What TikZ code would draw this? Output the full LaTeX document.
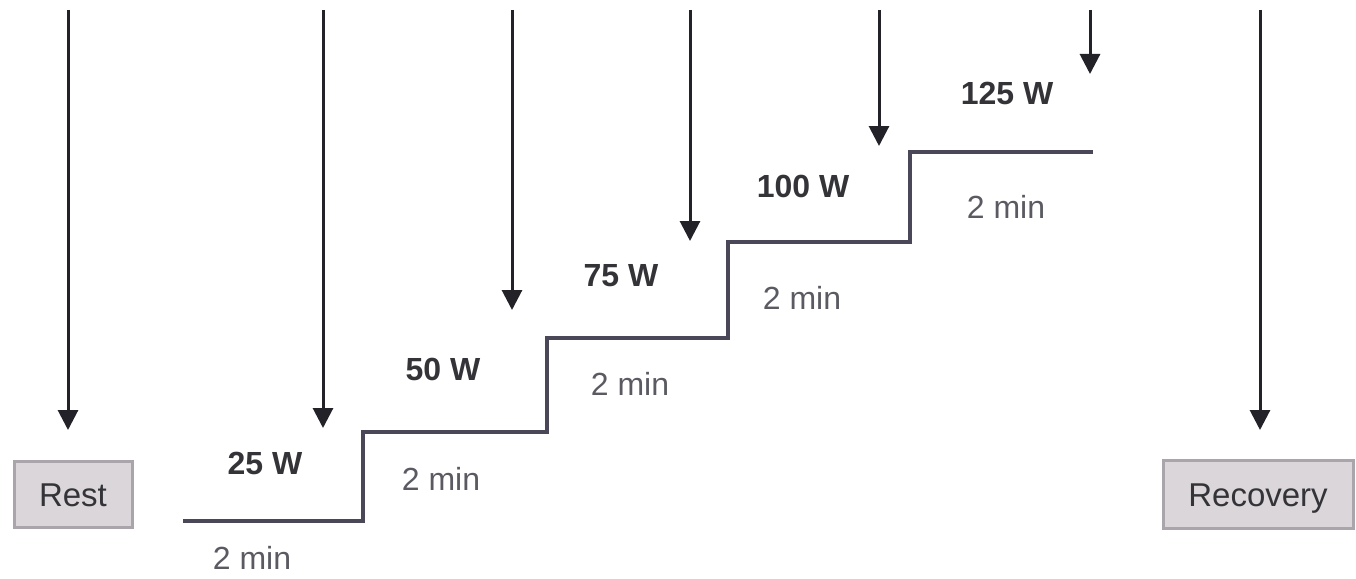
\documentclass[tikz,border=0pt]{standalone}
\usepackage{fontspec}
\setmainfont{Liberation Sans}
\usetikzlibrary{arrows.meta}
\definecolor{stair}{HTML}{4A4858}
\definecolor{arr}{HTML}{222228}
\definecolor{boxfill}{HTML}{DAD6DA}
\definecolor{boxline}{HTML}{A9A5AB}
\definecolor{lbl}{HTML}{333338}
\definecolor{minc}{HTML}{5A5A62}
\tikzset{
  down/.style={draw=arr, line width=3pt, -{Triangle[width=20pt,length=20pt]}},
  stairline/.style={draw=stair, line width=3.5pt, line cap=butt, line join=miter},
  watt/.style={font=\fontsize{32}{38}\selectfont\bfseries, text=lbl, inner sep=0pt},
  dur/.style={font=\fontsize{32}{38}\selectfont, text=minc, inner sep=0pt},
  phase/.style={draw=boxline, fill=boxfill, line width=3pt, font=\fontsize{33}{38}\selectfont, text=lbl, inner sep=0pt, text height=24pt, text depth=0pt}
}
\begin{document}
\begin{tikzpicture}[x=1pt,y=-1pt]
\useasboundingbox (0,0) rectangle (1356,578);
% boxes
\node[phase, minimum width=118pt, minimum height=66pt] (rest) at (73,494) {Rest};
\node[phase, minimum width=190pt, minimum height=68pt] (recov) at (1258,494) {Recovery};
% staircase
\coordinate (s0) at (183,521);
\coordinate (s1) at (363,521);
\coordinate (s1u) at (363,432);
\coordinate (s2) at (547,432);
\coordinate (s2u) at (547,338);
\coordinate (s3) at (728,338);
\coordinate (s3u) at (728,242);
\coordinate (s4) at (910,242);
\coordinate (s4u) at (910,152);
\coordinate (s5) at (1093,152);
\draw[stairline] (s0) -- (s1) -- (s1u) -- (s2) -- (s2u) -- (s3) -- (s3u) -- (s4) -- (s4u) -- (s5);
% arrows
\coordinate (a0t) at (68,10);   \coordinate (a0b) at (68,430);
\coordinate (a1t) at (323,10);  \coordinate (a1b) at (323,428);
\coordinate (a2t) at (512,10);  \coordinate (a2b) at (512,310);
\coordinate (a3t) at (690,10);  \coordinate (a3b) at (690,241);
\coordinate (a4t) at (879,10);  \coordinate (a4b) at (879,146);
\coordinate (a5t) at (1090,10); \coordinate (a5b) at (1090,74);
\coordinate (a6t) at (1260,10); \coordinate (a6b) at (1260,430);
\draw[down] (a0t) -- (a0b);
\draw[down] (a1t) -- (a1b);
\draw[down] (a2t) -- (a2b);
\draw[down] (a3t) -- (a3b);
\draw[down] (a4t) -- (a4b);
\draw[down] (a5t) -- (a5b);
\draw[down] (a6t) -- (a6b);
% labels
\node[watt] (w1) at (265,463) {25 W};
\node[watt] (w2) at (443,369) {50 W};
\node[watt] (w3) at (621,276) {75 W};
\node[watt] (w4) at (803,186) {100 W};
\node[watt] (w5) at (1007,93) {125 W};
\node[dur] (d1) at (252,558) {2 min};
\node[dur] (d2) at (441,479) {2 min};
\node[dur] (d3) at (630,384) {2 min};
\node[dur] (d4) at (802,298) {2 min};
\node[dur] (d5) at (1006,207) {2 min};
\end{tikzpicture}
\end{document}
